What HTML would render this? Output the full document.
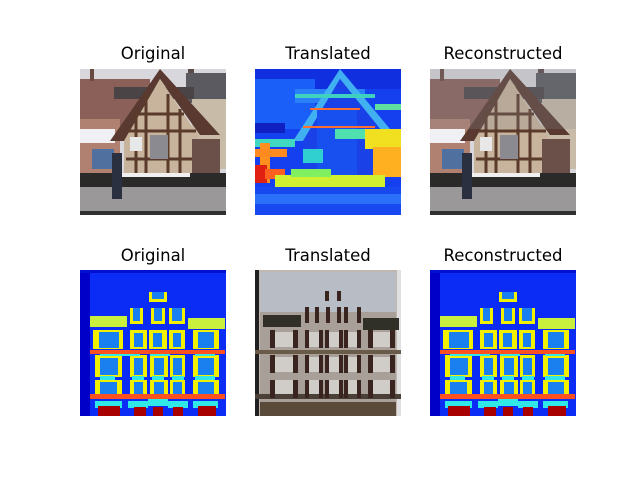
<!DOCTYPE html>
<html><head><meta charset="utf-8"><style>
html,body{margin:0;padding:0;background:#fff;}
body{width:640px;height:480px;position:relative;overflow:hidden;font-family:"DejaVu Sans","Liberation Sans",sans-serif;}
.t{position:absolute;width:200px;text-align:center;font-size:16.5px;color:#000;line-height:20px;}
svg{position:absolute;}
</style></head><body>
<div class="t" style="left:53px;top:44px">Original</div>
<div class="t" style="left:228px;top:44px">Translated</div>
<div class="t" style="left:403px;top:44px">Reconstructed</div>
<div class="t" style="left:53px;top:246px">Original</div>
<div class="t" style="left:228px;top:246px">Translated</div>
<div class="t" style="left:403px;top:246px">Reconstructed</div>

<svg width="640" height="480" style="left:0;top:0">
<defs>
<g id="house">
  <rect x="0" y="0" width="146" height="146" fill="#d8d8dc"/>
  <rect x="0" y="10" width="70" height="50" fill="#8a6058"/>
  <rect x="0" y="50" width="40" height="60" fill="#b08070"/>
  <rect x="0" y="60" width="35" height="14" fill="#f0f0f4"/>
  <rect x="12" y="80" width="22" height="20" fill="#5070a0"/>
  <rect x="10" y="0" width="4" height="12" fill="#6a4a40"/>
  <rect x="108" y="0" width="6" height="30" fill="#5a4a48"/>
  <rect x="106" y="4" width="40" height="30" fill="#5a5a60"/>
  <rect x="112" y="30" width="34" height="70" fill="#c8bca8"/>
  <rect x="34" y="18" width="80" height="12" fill="#4a4446"/>
  <polygon points="30,72 80,0 140,66 120,66 80,10 44,72" fill="#5a3a30"/>
  <polygon points="44,72 80,10 118,66 118,110 44,110" fill="#c8b49c"/>
  <g stroke="#5a3a2a" stroke-width="3" fill="none">
    <line x1="56" y1="40" x2="56" y2="108"/><line x1="66" y1="25" x2="66" y2="108"/>
    <line x1="88" y1="25" x2="88" y2="108"/><line x1="100" y1="40" x2="100" y2="108"/>
    <line x1="48" y1="62" x2="116" y2="62"/><line x1="58" y1="45" x2="104" y2="45"/>
    <line x1="46" y1="90" x2="116" y2="90"/>
  </g>
  <rect x="70" y="66" width="18" height="24" fill="#8a8a90"/>
  <rect x="50" y="68" width="12" height="14" fill="#e8e8e8"/>
  <rect x="112" y="70" width="28" height="44" fill="#6a5048"/>
  <rect x="0" y="104" width="146" height="16" fill="#2a2a28"/>
  <rect x="40" y="104" width="70" height="4" fill="#f0f0f0"/>
  <rect x="0" y="118" width="146" height="28" fill="#9a9898"/>
  <rect x="32" y="84" width="10" height="46" fill="#2a3040"/>
  <rect x="0" y="142" width="146" height="4" fill="#303030"/>
</g>
<g id="facade">
  <rect x="0" y="0" width="146" height="146" fill="#0a2cf4"/>
  <rect x="0" y="0" width="10" height="146" fill="#0000c8"/>
  <rect x="0" y="0" width="146" height="3" fill="#0010d0"/>
  <g fill="#f0f000">
    <rect x="69" y="22" width="18" height="10"/>
    <rect x="50" y="38" width="13" height="16"/><rect x="71" y="38" width="14" height="16"/><rect x="89" y="38" width="16" height="16"/>
    <rect x="13" y="60" width="30" height="19"/><rect x="50" y="60" width="17" height="19"/><rect x="69" y="60" width="18" height="19"/><rect x="89" y="60" width="16" height="19"/><rect x="113" y="60" width="26" height="19"/>
    <rect x="15" y="85" width="27" height="22"/><rect x="50" y="85" width="17" height="22"/><rect x="70" y="85" width="18" height="22"/><rect x="90" y="85" width="15" height="22"/><rect x="113" y="85" width="26" height="22"/>
    <rect x="15" y="110" width="27" height="17"/><rect x="50" y="110" width="17" height="17"/><rect x="70" y="110" width="18" height="17"/><rect x="90" y="110" width="15" height="17"/><rect x="113" y="110" width="26" height="17"/>
  </g>
  <g fill="#1a80f0">
    <rect x="72" y="22" width="12" height="7"/>
    <rect x="53" y="38" width="7" height="13"/><rect x="74" y="38" width="8" height="13"/><rect x="92" y="38" width="10" height="13"/>
    <rect x="19" y="62" width="20" height="16"/><rect x="54" y="63" width="9" height="14"/><rect x="73" y="63" width="9" height="14"/><rect x="93" y="63" width="8" height="14"/><rect x="118" y="62" width="16" height="16"/>
    <rect x="20" y="88" width="18" height="17"/><rect x="54" y="88" width="9" height="17"/><rect x="74" y="88" width="10" height="17"/><rect x="93" y="88" width="9" height="17"/><rect x="118" y="88" width="16" height="17"/>
    <rect x="20" y="112" width="17" height="15"/><rect x="54" y="112" width="9" height="15"/><rect x="74" y="112" width="10" height="15"/><rect x="93" y="112" width="9" height="15"/><rect x="118" y="112" width="16" height="15"/>
  </g>
  <g fill="#30e8e8">
    <rect x="20" y="81" width="40" height="5"/><rect x="70" y="81" width="20" height="5"/><rect x="115" y="81" width="20" height="5"/>
    <rect x="20" y="106" width="15" height="4"/><rect x="52" y="106" width="12" height="4"/><rect x="72" y="106" width="12" height="4"/><rect x="92" y="106" width="12" height="4"/><rect x="115" y="106" width="20" height="4"/>
    <rect x="15" y="131" width="27" height="7"/><rect x="48" y="131" width="20" height="7"/><rect x="68" y="129" width="20" height="7"/><rect x="88" y="131" width="20" height="7"/><rect x="113" y="131" width="25" height="7"/>
  </g>
  <rect x="10" y="46" width="37" height="11" fill="#c8f03c"/>
  <rect x="108" y="48" width="37" height="11" fill="#c8f03c"/>
  <rect x="10" y="80" width="135" height="4" fill="#ff5020"/>
  <rect x="10" y="124" width="135" height="5" fill="#ff5020"/>
  <g fill="#a80000">
    <rect x="18" y="136" width="22" height="10"/><rect x="54" y="137" width="12" height="9"/><rect x="73" y="137" width="10" height="9"/><rect x="93" y="137" width="10" height="9"/><rect x="118" y="136" width="18" height="10"/>
  </g>
</g>
</defs>

<g transform="translate(80,69)"><use href="#house"/></g>
<g transform="translate(430,69)"><use href="#house"/><rect width="146" height="60" fill="#888890" opacity="0.25"/></g>

<g transform="translate(255,69)">
  <rect width="146" height="146" fill="#1440f0"/>
  <rect x="0" y="0" width="146" height="20" fill="#1030e0"/>
  <rect x="0" y="10" width="60" height="50" fill="#1a60f8"/>
  <rect x="40" y="20" width="70" height="14" fill="#2a80f8"/>
  <polygon points="38,72 85,0 140,66 130,66 85,10 48,72" fill="#40b0f0"/>
  <polygon points="48,72 85,10 130,66 122,110 50,110" fill="#1a40e8"/>
  <rect x="62" y="40" width="40" height="70" fill="#1850f0"/>
  <g stroke="#ff7030" stroke-width="2"><line x1="55" y1="40" x2="105" y2="40"/><line x1="48" y1="58" x2="120" y2="58"/><line x1="60" y1="26" x2="100" y2="26"/></g>
  <rect x="40" y="25" width="80" height="4" fill="#40d0c0"/>
  <rect x="120" y="35" width="26" height="6" fill="#60e0a0"/>
  <rect x="80" y="60" width="30" height="10" fill="#50e0b0"/>
  <rect x="0" y="54" width="30" height="10" fill="#1020c0"/>
  <rect x="0" y="70" width="40" height="8" fill="#40d8c0"/>
  <rect x="5" y="74" width="10" height="40" fill="#ff9020"/>
  <rect x="0" y="80" width="32" height="8" fill="#ff8a20"/>
  <rect x="0" y="96" width="12" height="18" fill="#e02010"/>
  <rect x="10" y="100" width="20" height="10" fill="#ff6020"/>
  <rect x="110" y="60" width="36" height="20" fill="#f0e020"/>
  <rect x="118" y="78" width="28" height="30" fill="#ffb020"/>
  <rect x="48" y="80" width="20" height="14" fill="#30d0d0"/>
  <rect x="20" y="106" width="110" height="12" fill="#d0f030"/>
  <rect x="36" y="100" width="40" height="8" fill="#80f060"/>
  <rect x="0" y="118" width="146" height="28" fill="#1848f0"/>
  <rect x="0" y="125" width="146" height="10" fill="#2a70f8"/>
</g>

<g transform="translate(80,270)"><use href="#facade"/></g>
<g transform="translate(430,270)"><use href="#facade"/></g>

<g transform="translate(255,270)">
  <rect width="146" height="146" fill="#c0b8b0"/>
  <rect x="5" y="2" width="136" height="40" fill="#b8bcc4"/>
  <rect x="5" y="42" width="136" height="104" fill="#a8a098"/>
  <rect x="0" y="0" width="4" height="146" fill="#202020"/>
  <rect x="142" y="0" width="4" height="146" fill="#e0e0e0"/>
  <rect x="8" y="45" width="38" height="12" fill="#303028"/>
  <rect x="108" y="48" width="36" height="12" fill="#303028"/>
  <rect x="0" y="80" width="146" height="4" fill="#6a5a48"/>
  <rect x="0" y="124" width="146" height="5" fill="#4a4038"/>
  <g fill="#d0ccc8">
    <rect x="20" y="62" width="18" height="15"/><rect x="54" y="62" width="10" height="15"/><rect x="74" y="62" width="10" height="15"/><rect x="93" y="62" width="9" height="15"/><rect x="118" y="62" width="17" height="15"/>
    <rect x="20" y="87" width="18" height="15"/><rect x="54" y="87" width="10" height="15"/><rect x="74" y="87" width="10" height="15"/><rect x="93" y="87" width="9" height="15"/><rect x="118" y="87" width="17" height="15"/>
    <rect x="20" y="110" width="18" height="14"/><rect x="54" y="110" width="10" height="14"/><rect x="74" y="110" width="10" height="14"/><rect x="93" y="110" width="9" height="14"/><rect x="118" y="110" width="17" height="14"/>
  </g>
  <g fill="#3a2420">
    <rect x="70" y="21" width="4" height="10"/><rect x="82" y="21" width="4" height="10"/>
    <rect x="50" y="37" width="4" height="16"/><rect x="60" y="37" width="4" height="16"/><rect x="71" y="37" width="4" height="16"/><rect x="82" y="37" width="4" height="16"/><rect x="89" y="37" width="4" height="16"/><rect x="102" y="37" width="4" height="16"/>
  </g>
  <g id="frow" fill="#3a2420">
    <rect x="15" y="60" width="5" height="18"/><rect x="38" y="60" width="5" height="18"/>
    <rect x="50" y="60" width="4" height="18"/><rect x="64" y="60" width="4" height="18"/>
    <rect x="70" y="60" width="4" height="18"/><rect x="84" y="60" width="4" height="18"/>
    <rect x="89" y="60" width="4" height="18"/><rect x="102" y="60" width="4" height="18"/>
    <rect x="113" y="60" width="5" height="18"/><rect x="135" y="60" width="5" height="18"/>
  </g>
  <use href="#frow" y="25"/>
  <use href="#frow" y="50"/>
  <rect x="5" y="132" width="136" height="14" fill="#5a4a3a"/>
</g>
</svg>
</body></html>
